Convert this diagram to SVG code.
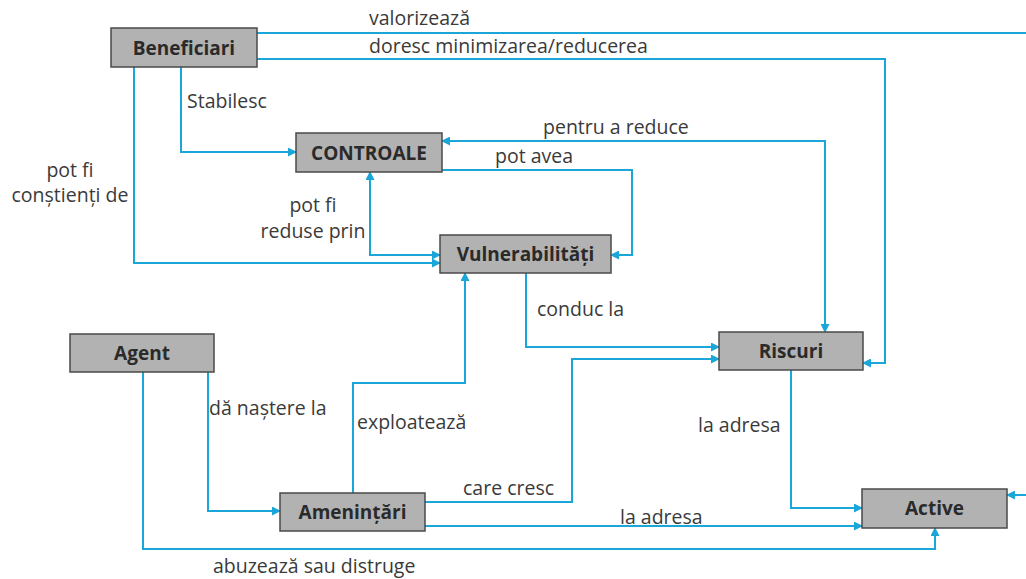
<svg xmlns="http://www.w3.org/2000/svg" width="1026" height="579" viewBox="0 0 1026 579">
<style>
.node rect{fill:#b2b2b2;stroke:#4a4a4a;stroke-width:1.5}
.node text{font-family:"Open Sans","Liberation Sans",sans-serif;font-weight:bold;font-size:19px;fill:#2a2a2a;text-anchor:middle}
.lbl{font-family:"Open Sans","Liberation Sans",sans-serif;font-size:19.5px;fill:#3a3a3a}
#connectors path{fill:none;stroke:#1ba6d9;stroke-width:2}
</style>
<defs>
<marker id="arr" markerUnits="userSpaceOnUse" markerWidth="9" markerHeight="9" refX="8" refY="4.5" orient="auto-start-reverse">
<path d="M0,0 L9,4.5 L0,9 z" fill="#1ba6d9"/>
</marker>
</defs>
<rect width="1026" height="579" fill="#ffffff"/>
<g id="connectors">
<path d="M257,33 H1026"/>
<path d="M1026,495 H1007" marker-end="url(#arr)"/>
<path d="M257,59 H885 V363 H863" marker-end="url(#arr)"/>
<path d="M181,67 V152 H296" marker-end="url(#arr)"/>
<path d="M134,67 V263 H440" marker-end="url(#arr)"/>
<path d="M440,255 H370 V172" marker-start="url(#arr)" marker-end="url(#arr)"/>
<path d="M825,332 V141 H442" marker-start="url(#arr)" marker-end="url(#arr)"/>
<path d="M442,170 H632 V255 H611" marker-end="url(#arr)"/>
<path d="M526,273 V347 H719" marker-end="url(#arr)"/>
<path d="M208,372 V511 H280" marker-end="url(#arr)"/>
<path d="M143,372 V549 H935 V528" marker-end="url(#arr)"/>
<path d="M353,493 V383 H465 V273" marker-end="url(#arr)"/>
<path d="M425,502 H572 V359 H719" marker-end="url(#arr)"/>
<path d="M425,526 H862" marker-end="url(#arr)"/>
<path d="M791,370 V508 H862" marker-end="url(#arr)"/>
</g>
<g id="labels">
<text class="lbl" x="369" y="25">valorizează</text>
<text class="lbl" x="369" y="53">doresc minimizarea/reducerea</text>
<text class="lbl" x="187" y="108">Stabilesc</text>
<text class="lbl" x="70" y="177" text-anchor="middle">pot fi</text>
<text class="lbl" x="70" y="202" text-anchor="middle">conștienți de</text>
<text class="lbl" x="313" y="212" text-anchor="middle">pot fi</text>
<text class="lbl" x="313" y="238" text-anchor="middle">reduse prin</text>
<text class="lbl" x="543" y="134">pentru a reduce</text>
<text class="lbl" x="495" y="163">pot avea</text>
<text class="lbl" x="537" y="316">conduc la</text>
<text class="lbl" x="209" y="415">dă naștere la</text>
<text class="lbl" x="357" y="429">exploatează</text>
<text class="lbl" x="463" y="495">care cresc</text>
<text class="lbl" x="620" y="524">la adresa</text>
<text class="lbl" x="698" y="432">la adresa</text>
<text class="lbl" x="213" y="573">abuzează sau distruge</text>
</g>
<g id="beneficiari" class="node"><rect x="111" y="28" width="146" height="39"/><text x="184" y="55">Beneficiari</text></g>
<g id="controale" class="node"><rect x="296" y="133" width="146" height="39"/><text x="369" y="160">CONTROALE</text></g>
<g id="vulnerabilitati" class="node"><rect x="440" y="235" width="171" height="38"/><text x="525.5" y="261">Vulnerabilități</text></g>
<g id="agent" class="node"><rect x="70" y="334" width="144" height="38"/><text x="142" y="360">Agent</text></g>
<g id="riscuri" class="node"><rect x="719" y="332" width="144" height="38"/><text x="791" y="358">Riscuri</text></g>
<g id="amenintari" class="node"><rect x="280" y="493" width="145" height="38"/><text x="352.5" y="519">Amenințări</text></g>
<g id="active" class="node"><rect x="862" y="489" width="145" height="39"/><text x="934.5" y="515">Active</text></g>
</svg>
